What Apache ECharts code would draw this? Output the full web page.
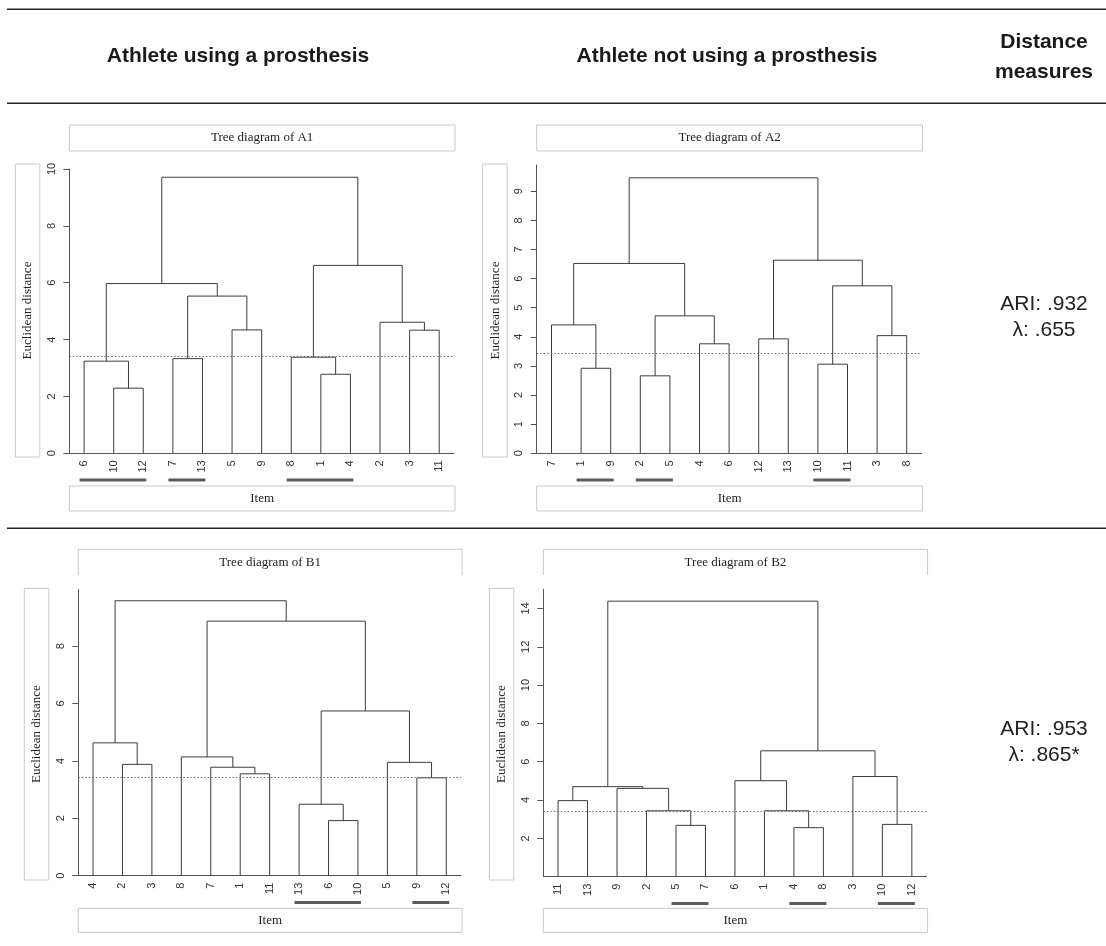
<!DOCTYPE html>
<html>
<head>
<meta charset="utf-8">
<script src="https://cdn.jsdelivr.net/npm/echarts@6/dist/echarts.min.js"></script>
<style>
  html, body { margin: 0; padding: 0; background: #fff; }
  #chart { width: 1106px; height: 946px; }
</style>
</head>
<body>
<div id="chart"></div>
<script>
// ---------------- DATA ----------------
const panelNames = ['A1', 'A2', 'B1', 'B2'];

// leaf order (item numbers) as shown under each tree
const leavesA1 = [6, 10, 12, 7, 13, 5, 9, 8, 1, 4, 2, 3, 11];
const leavesA2 = [7, 1, 9, 2, 5, 4, 6, 12, 13, 10, 11, 3, 8];
const leavesB1 = [4, 2, 3, 8, 7, 1, 11, 13, 6, 10, 5, 9, 12];
const leavesB2 = [11, 13, 9, 2, 5, 7, 6, 1, 4, 8, 3, 10, 12];

// merges: [childA, childB, height]; negative = item number, positive = earlier merge (1-based)
const mergesA1 = [
  [-10, -12, 2.29], [-6, 1, 3.24], [-7, -13, 3.33], [-5, -9, 4.34], [3, 4, 5.53], [2, 5, 5.97],
  [-1, -4, 2.78], [-8, 7, 3.38], [-3, -11, 4.33], [-2, 9, 4.61], [8, 10, 6.61], [6, 11, 9.71]
];
const mergesA2 = [
  [-1, -9, 2.92], [-7, 1, 4.41], [-2, -5, 2.66], [-4, -6, 3.76], [3, 4, 4.72], [2, 5, 6.52],
  [-12, -13, 3.93], [-10, -11, 3.06], [-3, -8, 4.04], [8, 9, 5.75], [7, 10, 6.63], [6, 11, 9.46]
];
const mergesB1 = [
  [-2, -3, 3.88], [-4, 1, 4.63], [-1, -11, 3.55], [-7, 3, 3.78], [-8, 4, 4.14], [-6, -10, 1.92],
  [-13, 6, 2.49], [-9, -12, 3.41], [-5, 8, 3.95], [7, 9, 5.74], [5, 10, 8.87], [2, 11, 9.58]
];
const mergesB2 = [
  [-11, -13, 3.97], [-5, -7, 2.68], [-2, 2, 3.44], [-9, 3, 4.61], [1, 4, 4.70], [-4, -8, 2.56],
  [-1, 6, 3.44], [-6, 7, 5.01], [-10, -12, 2.73], [-3, 9, 5.23], [8, 10, 6.57], [5, 11, 14.38]
];

// y-axis range and tick values
const yMaxValues = [10, 9.9, 9.98, 15];
const yTicksA1 = [0, 2, 4, 6, 8, 10];
const yTicksA2 = [0, 1, 2, 3, 4, 5, 6, 7, 8, 9];
const yTicksB1 = [0, 2, 4, 6, 8];
const yTicksB2 = [2, 4, 6, 8, 10, 12, 14];

// cut height (dotted line)
const cutHeights = [3.42, 3.42, 3.42, 3.4];

// underlined leaf groups: [first position, last position]
const groupsA1 = [[0, 2], [3, 4], [7, 9]];
const groupsA2 = [[1, 2], [3, 4], [9, 10]];
const groupsB1 = [[7, 9], [11, 12]];
const groupsB2 = [[4, 5], [8, 9], [11, 12]];

const headerLeft = 'Athlete using a prosthesis';
const headerMid = 'Athlete not using a prosthesis';
const headerRight = ['Distance', 'measures'];
const measuresRow1 = ['ARI: .932', 'λ: .655'];
const measuresRow2 = ['ARI: .953', 'λ: .865*'];

// ---------------- LAYOUT ----------------
const leavesAll = [leavesA1, leavesA2, leavesB1, leavesB2];
const mergesAll = [mergesA1, mergesA2, mergesB1, mergesB2];
const ticksAll = [yTicksA1, yTicksA2, yTicksB1, yTicksB2];
const groupsAll = [groupsA1, groupsA2, groupsB1, groupsB2];

const gridRects = [
  { left: 69.3, top: 169, width: 384.7, height: 284.3 },
  { left: 536.7, top: 165, width: 384.8, height: 288.3 },
  { left: 78.3, top: 589.3, width: 382.7, height: 286.4 },
  { left: 543.3, top: 589.3, width: 383.3, height: 287.4 }
];
const rowTitleBox = [{ top: 125, height: 26, closed: true }, { top: 549.3, height: 25.7, closed: false }];
const rowYBox = [{ top: 164, height: 293 }, { top: 588.3, height: 291.7 }];
const rowItemBox = [{ top: 486, height: 25 }, { top: 908.3, height: 24 }];

const SANS = '"Liberation Sans", Arial, sans-serif';
const SERIF = '"Liberation Serif", "Times New Roman", serif';
const LINE = '#3c3c3c';
const BOX = '#c9c9c9';

function buildTree(leaves, merges) {
  const pos = {};
  leaves.forEach((l, i) => { pos[l] = i; });
  const nodes = [];
  const items = [];
  merges.forEach(m => {
    const a = m[0] < 0 ? { x: pos[-m[0]], h: 0 } : nodes[m[0] - 1];
    const b = m[1] < 0 ? { x: pos[-m[1]], h: 0 } : nodes[m[1] - 1];
    nodes.push({ x: (a.x + b.x) / 2, h: m[2] });
    items.push([a.x, a.h, b.x, b.h, m[2]]);
  });
  return items;
}

const grids = [], xAxes = [], yAxes = [], series = [], graphic = [];

panelNames.forEach((name, i) => {
  const g = gridRects[i];
  const row = i < 2 ? 0 : 1;
  grids.push({ left: g.left, top: g.top, width: g.width, height: g.height, containLabel: false });
  const n = leavesAll[i].length;
  // value axis used for drawing
  xAxes.push({
    type: 'value', gridIndex: i, min: -0.5, max: n - 0.5, show: false
  });
  // category axis for leaf labels
  xAxes.push({
    type: 'category', gridIndex: i, position: 'bottom', boundaryGap: true,
    data: leavesAll[i].map(String),
    axisLine: { show: true, onZero: false, lineStyle: { color: '#555', width: 1 } },
    axisTick: { show: false },
    splitLine: { show: false },
    axisLabel: { interval: 0, rotate: 90, fontSize: 11, color: '#333', fontFamily: SANS, margin: 7 }
  });
  yAxes.push({
    type: 'value', gridIndex: i, min: 0, max: yMaxValues[i], position: 'left',
    axisLine: { show: true, onZero: false, lineStyle: { color: '#555', width: 1 } },
    axisTick: { show: true, length: 6, lineStyle: { color: '#555' }, customValues: ticksAll[i] },
    axisLabel: { rotate: 90, fontSize: 11, color: '#333', fontFamily: SANS, margin: 12, customValues: ticksAll[i] },
    splitLine: { show: false }
  });

  series.push({
    type: 'custom', name: 'Tree ' + name,
    xAxisIndex: 2 * i, yAxisIndex: i,
    data: buildTree(leavesAll[i], mergesAll[i]),
    encode: { x: [0, 2], y: [1, 3, 4] },
    silent: true,
    renderItem: function (params, api) {
      const p1 = api.coord([api.value(0), api.value(1)]);
      const p2 = api.coord([api.value(0), api.value(4)]);
      const p3 = api.coord([api.value(2), api.value(4)]);
      const p4 = api.coord([api.value(2), api.value(3)]);
      return {
        type: 'polyline',
        shape: { points: [p1, p2, p3, p4] },
        style: { stroke: LINE, lineWidth: 1, fill: null }
      };
    },
    markLine: {
      silent: true, symbol: ['none', 'none'], animation: false,
      label: { show: false },
      lineStyle: { type: [1.5, 2], color: '#6a6a6a', width: 1 },
      data: [{ yAxis: cutHeights[i] }]
    }
  });

  series.push({
    type: 'custom', name: 'Groups ' + name,
    xAxisIndex: 2 * i, yAxisIndex: i, clip: false, silent: true,
    data: groupsAll[i].map(gr => [gr[0], gr[1], 0]),
    encode: { x: [0, 1], y: 2 },
    renderItem: function (params, api) {
      const a = api.coord([api.value(0), 0]);
      const b = api.coord([api.value(1), 0]);
      return {
        type: 'line',
        shape: { x1: a[0] - 4.5, y1: a[1] + 26.7, x2: b[0] + 3, y2: b[1] + 26.7 },
        style: { stroke: '#5c5c5c', lineWidth: 3 }
      };
    }
  });

  // boxes and labels
  const left = g.left, right = g.left + g.width + 1;
  const tb = rowTitleBox[row], yb = rowYBox[row], ib = rowItemBox[row];
  if (tb.closed) {
    graphic.push({
      type: 'rect', silent: true,
      shape: { x: left, y: tb.top, width: right - left, height: tb.height },
      style: { fill: '#fff', stroke: BOX, lineWidth: 1 }
    });
  } else {
    graphic.push({
      type: 'polyline', silent: true,
      shape: { points: [[left, tb.top + tb.height], [left, tb.top], [right, tb.top], [right, tb.top + tb.height]] },
      style: { fill: null, stroke: BOX, lineWidth: 1 }
    });
  }
  graphic.push({
    type: 'text', silent: true, x: (left + right) / 2, y: tb.top + tb.height / 2,
    style: { text: 'Tree diagram of ' + name, font: '13px ' + SERIF, fill: '#222', align: 'center', verticalAlign: 'middle' }
  });
  graphic.push({
    type: 'rect', silent: true,
    shape: { x: left - 54, y: yb.top, width: 24.5, height: yb.height },
    style: { fill: '#fff', stroke: BOX, lineWidth: 1 }
  });
  graphic.push({
    type: 'text', silent: true, x: left - 41.5, y: yb.top + yb.height / 2, rotation: Math.PI / 2,
    style: { text: 'Euclidean distance', font: '13px ' + SERIF, fill: '#222', align: 'center', verticalAlign: 'middle' }
  });
  graphic.push({
    type: 'rect', silent: true,
    shape: { x: left, y: ib.top, width: right - left, height: ib.height },
    style: { fill: '#fff', stroke: BOX, lineWidth: 1 }
  });
  graphic.push({
    type: 'text', silent: true, x: (left + right) / 2, y: ib.top + ib.height / 2,
    style: { text: 'Item', font: '13px ' + SERIF, fill: '#222', align: 'center', verticalAlign: 'middle' }
  });
});

// table rules
[9.3, 103.3, 528.3].forEach(y => {
  graphic.push({
    type: 'line', silent: true,
    shape: { x1: 7, y1: y, x2: 1106, y2: y },
    style: { stroke: '#222', lineWidth: 1.6 }
  });
});
// headers
const headerFont = 'bold 21px ' + SANS;
[[headerLeft, 238, 56], [headerMid, 727, 56], [headerRight[0], 1044, 42.5], [headerRight[1], 1044, 72.5]].forEach(([t, x, y]) => {
  graphic.push({
    type: 'text', silent: true, x: x, y: y,
    style: { text: t, font: headerFont, fill: '#1a1a1a', align: 'center', verticalAlign: 'middle' }
  });
});
// distance measures
[[measuresRow1, 304.2], [measuresRow2, 729.2]].forEach(([txt, y]) => {
  graphic.push({
    type: 'text', silent: true, x: 1044, y: y,
    style: { text: txt[0], font: '21px ' + SANS, fill: '#222', align: 'center', verticalAlign: 'middle' }
  });
  graphic.push({
    type: 'text', silent: true, x: 1044, y: y + 26.5,
    style: { text: txt[1], font: '21px ' + SANS, fill: '#222', align: 'center', verticalAlign: 'middle' }
  });
});

const chart = echarts.init(document.getElementById('chart'), null, { renderer: 'canvas' });
chart.setOption({
  animation: false,
  backgroundColor: '#fff',
  grid: grids,
  xAxis: xAxes,
  yAxis: yAxes,
  series: series,
  graphic: graphic
});
</script>
</body>
</html>
